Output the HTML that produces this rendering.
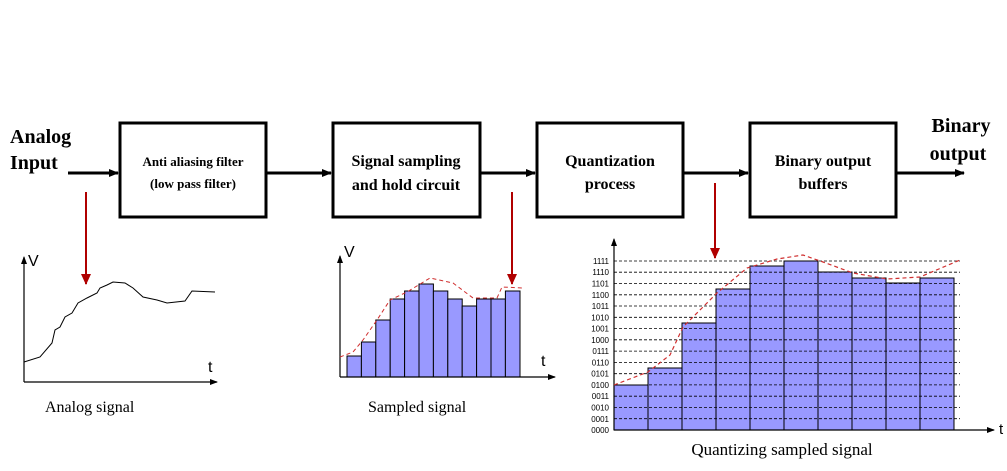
<!DOCTYPE html>
<html><head><meta charset="utf-8"><style>
html,body{margin:0;padding:0;background:#fff;}
svg{display:block;}
.b{font-family:"Liberation Serif",serif;font-weight:bold;}
.s{font-family:"Liberation Serif",serif;}
.a{font-family:"Liberation Sans",sans-serif;}
</style></head><body>
<svg width="1007" height="471" viewBox="0 0 1007 471" xmlns="http://www.w3.org/2000/svg">
<defs>
<marker id="ah" markerWidth="10" markerHeight="8" refX="9" refY="4" orient="auto" markerUnits="userSpaceOnUse"><path d="M0,0 L10,4 L0,8 z" fill="#000"/></marker>
<marker id="sh" markerWidth="8" markerHeight="6" refX="7" refY="3" orient="auto" markerUnits="userSpaceOnUse"><path d="M0,0 L8,3 L0,6 z" fill="#000"/></marker>
<marker id="rh" markerWidth="11" markerHeight="10" refX="10" refY="5" orient="auto" markerUnits="userSpaceOnUse"><path d="M0,0 L11,5 L0,10 z" fill="#b00000"/></marker>
</defs>
<text x="10" y="143" class="b" font-size="20">Analog</text>
<text x="10" y="169" class="b" font-size="20">Input</text>
<g fill="none" stroke="#000" stroke-width="3">
<rect x="120" y="123" width="146" height="94"/>
<rect x="333" y="123" width="147" height="94"/>
<rect x="537" y="123" width="146" height="94"/>
<rect x="750" y="123" width="146" height="94"/>
</g>
<g stroke="#000" stroke-width="3" marker-end="url(#ah)">
<line x1="68" y1="173" x2="118" y2="173"/>
<line x1="266" y1="173" x2="331" y2="173"/>
<line x1="480" y1="173" x2="535" y2="173"/>
<line x1="683" y1="173" x2="748" y2="173"/>
<line x1="896" y1="173" x2="964" y2="173"/>
</g>
<text x="193" y="166" class="b" font-size="13" text-anchor="middle">Anti aliasing filter</text>
<text x="193" y="188" class="b" font-size="13" text-anchor="middle">(low pass filter)</text>
<text x="406" y="166" class="b" font-size="16" text-anchor="middle">Signal sampling</text>
<text x="406" y="190" class="b" font-size="16" text-anchor="middle">and hold circuit</text>
<text x="610" y="166" class="b" font-size="16" text-anchor="middle">Quantization</text>
<text x="610" y="189" class="b" font-size="16" text-anchor="middle">process</text>
<text x="823" y="166" class="b" font-size="16" text-anchor="middle">Binary output</text>
<text x="823" y="189" class="b" font-size="16" text-anchor="middle">buffers</text>
<text x="961" y="132" class="b" font-size="20" text-anchor="middle">Binary</text>
<text x="958" y="160" class="b" font-size="20" text-anchor="middle">output</text>
<g stroke="#b00000" stroke-width="2" marker-end="url(#rh)">
<line x1="86" y1="192" x2="86" y2="284"/>
<line x1="512" y1="192" x2="512" y2="284"/>
<line x1="715" y1="183" x2="715" y2="258"/>
</g>
<g stroke="#000" stroke-width="1.2" marker-end="url(#sh)">
<line x1="24" y1="382" x2="24" y2="257"/>
<line x1="24" y1="382" x2="217" y2="382"/>
</g>
<text x="28" y="266" class="a" font-size="16">V</text>
<text x="208" y="372" class="a" font-size="16">t</text>
<polyline fill="none" stroke="#000" stroke-width="1" points="24,362 40,357 52,343 55,330 60,327 65,317 72,313 78,303 87,298 97,293 100,288 107,285 113,282 125,283 133,288 143,297 157,300 167,303 185,301 192,291 215,292"/>
<text x="45" y="412" class="s" font-size="16">Analog signal</text>
<g fill="#9999ff" stroke="#000" stroke-width="1">
<rect x="347" y="356" width="14.4" height="21"/>
<rect x="361.4" y="342" width="14.4" height="35"/>
<rect x="375.8" y="320" width="14.4" height="57"/>
<rect x="390.2" y="299" width="14.4" height="78"/>
<rect x="404.6" y="291" width="14.4" height="86"/>
<rect x="419" y="284" width="14.4" height="93"/>
<rect x="433.4" y="291" width="14.4" height="86"/>
<rect x="447.8" y="299" width="14.4" height="78"/>
<rect x="462.2" y="306" width="14.4" height="71"/>
<rect x="476.6" y="299" width="14.4" height="78"/>
<rect x="491" y="299" width="14.4" height="78"/>
<rect x="505.4" y="291" width="14.6" height="86"/>
</g>
<g stroke="#000" stroke-width="1.2" marker-end="url(#sh)">
<line x1="340" y1="377" x2="340" y2="256"/>
<line x1="340" y1="377" x2="555" y2="377"/>
</g>
<text x="344" y="257" class="a" font-size="16">V</text>
<text x="541" y="366" class="a" font-size="16">t</text>
<polyline fill="none" stroke="#d03030" stroke-width="1" stroke-dasharray="4,3" points="340,357 353,352 363,340 377,320 390,300 407,292 430,278 453,283 473,298 497,298 502,287 523,288"/>
<text x="368" y="412" class="s" font-size="16">Sampled signal</text>
<g fill="#9999ff" stroke="#000" stroke-width="1">
<rect x="614" y="385" width="34" height="45"/>
<rect x="648" y="368" width="34" height="62"/>
<rect x="682" y="323" width="34" height="107"/>
<rect x="716" y="289" width="34" height="141"/>
<rect x="750" y="266" width="34" height="164"/>
<rect x="784" y="261" width="34" height="169"/>
<rect x="818" y="272" width="34" height="158"/>
<rect x="852" y="278" width="34" height="152"/>
<rect x="886" y="283" width="34" height="147"/>
<rect x="920" y="278" width="34" height="152"/>
</g>
<g stroke="#000" stroke-width="0.8" stroke-dasharray="3,2">
<line x1="614" y1="418.7" x2="960" y2="418.7"/>
<line x1="614" y1="407.5" x2="960" y2="407.5"/>
<line x1="614" y1="396.2" x2="960" y2="396.2"/>
<line x1="614" y1="384.9" x2="960" y2="384.9"/>
<line x1="614" y1="373.7" x2="960" y2="373.7"/>
<line x1="614" y1="362.4" x2="960" y2="362.4"/>
<line x1="614" y1="351.1" x2="960" y2="351.1"/>
<line x1="614" y1="339.8" x2="960" y2="339.8"/>
<line x1="614" y1="328.6" x2="960" y2="328.6"/>
<line x1="614" y1="317.3" x2="960" y2="317.3"/>
<line x1="614" y1="306" x2="960" y2="306"/>
<line x1="614" y1="294.8" x2="960" y2="294.8"/>
<line x1="614" y1="283.5" x2="960" y2="283.5"/>
<line x1="614" y1="272.2" x2="960" y2="272.2"/>
<line x1="614" y1="261" x2="960" y2="261"/>
</g>
<g stroke="#000" stroke-width="1.2" marker-end="url(#sh)">
<line x1="614" y1="430" x2="614" y2="239"/>
<line x1="614" y1="430" x2="994" y2="430"/>
</g>
<text x="999" y="434" class="a" font-size="15">t</text>
<polyline fill="none" stroke="#d03030" stroke-width="1.2" stroke-dasharray="4,3" points="614,385 648,372 670,355 683,327 717,293 747,268 777,259 803,255 823,262 853,273 887,279 920,277 960,260"/>
<g class="a" font-size="8" text-anchor="end">
<text x="609" y="433">0000</text>
<text x="609" y="422">0001</text>
<text x="609" y="410.5">0010</text>
<text x="609" y="399.2">0011</text>
<text x="609" y="388">0100</text>
<text x="609" y="376.7">0101</text>
<text x="609" y="365.4">0110</text>
<text x="609" y="354.1">0111</text>
<text x="609" y="342.8">1000</text>
<text x="609" y="331.6">1001</text>
<text x="609" y="320.3">1010</text>
<text x="609" y="309">1011</text>
<text x="609" y="297.8">1100</text>
<text x="609" y="286.5">1101</text>
<text x="609" y="275.2">1110</text>
<text x="609" y="264">1111</text>
</g>
<text x="782" y="455" class="s" font-size="17" text-anchor="middle">Quantizing sampled signal</text>
</svg>
</body></html>
